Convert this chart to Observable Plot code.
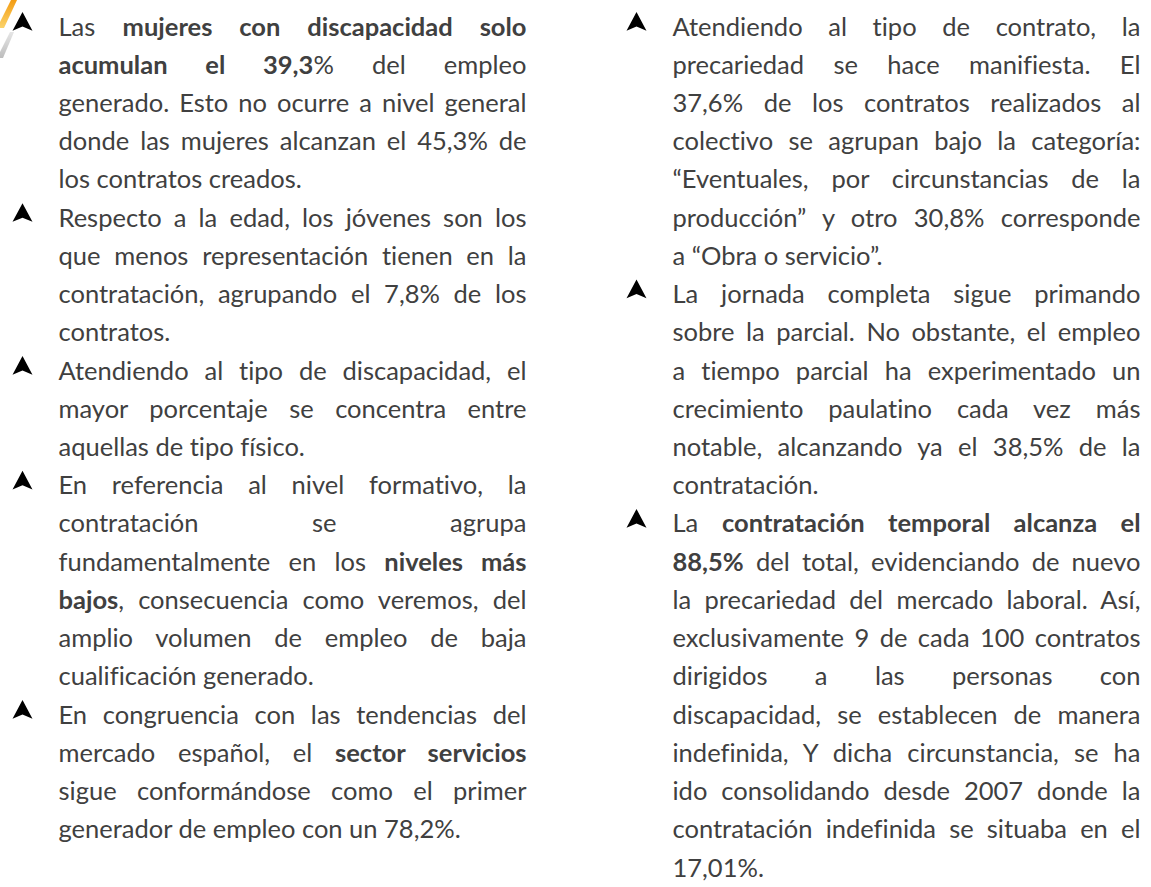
<!DOCTYPE html>
<html><head><meta charset="utf-8">
<script src="https://cdn.jsdelivr.net/npm/d3@7"></script>
<script src="https://cdn.jsdelivr.net/npm/@observablehq/plot@0.6"></script>
<style>
html,body{margin:0;padding:0;background:#fff;overflow:hidden;}
#chart svg{display:block;}
#chart text{font-variant-ligatures:none;font-feature-settings:"liga" 0,"clig" 0,"dlig" 0;}
</style></head><body><div id="chart"></div>
<script>
// ---- data: columns, lines of text (bold marked with *...*), bullet starts ----
const columns = ["izquierda", "derecha"];
const leftLines = [
  "Las *mujeres con discapacidad solo*",
  "*acumulan el 39,3*% del empleo",
  "generado. Esto no ocurre a nivel general",
  "donde las mujeres alcanzan el 45,3% de",
  "los contratos creados.",
  "Respecto a la edad, los jóvenes son los",
  "que menos representación tienen en la",
  "contratación, agrupando el 7,8% de los",
  "contratos.",
  "Atendiendo al tipo de discapacidad, el",
  "mayor porcentaje se concentra entre",
  "aquellas de tipo físico.",
  "En referencia al nivel formativo, la",
  "contratación se agrupa",
  "fundamentalmente en los *niveles más*",
  "*bajos*, consecuencia como veremos, del",
  "amplio volumen de empleo de baja",
  "cualificación generado.",
  "En congruencia con las tendencias del",
  "mercado español, el *sector servicios*",
  "sigue conformándose como el primer",
  "generador de empleo con un 78,2%."
];
const rightLines = [
  "Atendiendo al tipo de contrato, la",
  "precariedad se hace manifiesta. El",
  "37,6% de los contratos realizados al",
  "colectivo se agrupan bajo la categoría:",
  "“Eventuales, por circunstancias de la",
  "producción” y otro 30,8% corresponde",
  "a “Obra o servicio”.",
  "La jornada completa sigue primando",
  "sobre la parcial. No obstante, el empleo",
  "a tiempo parcial ha experimentado un",
  "crecimiento paulatino cada vez más",
  "notable, alcanzando ya el 38,5% de la",
  "contratación.",
  "La *contratación temporal alcanza el*",
  "*88,5%* del total, evidenciando de nuevo",
  "la precariedad del mercado laboral. Así,",
  "exclusivamente 9 de cada 100 contratos",
  "dirigidos a las personas con",
  "discapacidad, se establecen de manera",
  "indefinida, Y dicha circunstancia, se ha",
  "ido consolidando desde 2007 donde la",
  "contratación indefinida se situaba en el",
  "17,01%."
];
const leftBulletStarts = [0, 5, 9, 12, 18];
const rightBulletStarts = [0, 7, 13];

// ---- build tables ----
function buildRows(lines, starts, col) {
  return lines.map((t, i) => {
    const lastOfPara = i === lines.length - 1 || starts.includes(i + 1);
    return {col, line: i, text: t, justify: !lastOfPara};
  });
}
const rows = [
  ...buildRows(leftLines, leftBulletStarts, 0),
  ...buildRows(rightLines, rightBulletStarts, 1)
];
const bullets = [
  ...leftBulletStarts.map(i => ({col: 0, line: i})),
  ...rightBulletStarts.map(i => ({col: 1, line: i}))
];

// ---- style ----
const textColor = "#404040";
const fontFamily = "Lato, 'Open Sans', sans-serif";
let fontSize = 25.5;
const textWidth = 468;

const arrowhead = {
  draw(ctx, size) {
    const r = Math.sqrt(size / Math.PI);
    ctx.moveTo(0, -r);
    ctx.lineTo(r * 0.95, r * 0.78);
    ctx.lineTo(0, r * 0.38);
    ctx.lineTo(-r * 0.95, r * 0.78);
    ctx.closePath();
  }
};

const chart = Plot.plot({
  width: 1151, height: 887, margin: 0,
  x: {domain: [0, 1], range: [58, 672], axis: null},
  y: {domain: [0, 22], range: [35, 876], axis: null},
  marks: [
    Plot.dot(bullets, {x: "col", y: "line", symbol: arrowhead, r: 10.5, fill: "#000", stroke: "none", dx: -36, dy: -13}),
    Plot.text(rows, {x: "col", y: "line", text: "text", textAnchor: "start", lineAnchor: "bottom",
      fill: textColor, fontSize: fontSize, fontFamily: fontFamily})
  ]
});
document.getElementById("chart").appendChild(chart);

// decorative logo fragment at the top-left corner
(function () {
  const svg = d3.select(chart);
  const defs = svg.append("defs");
  const g1 = defs.append("linearGradient").attr("id", "lgO").attr("x1", 0).attr("y1", 0).attr("x2", 0).attr("y2", 1);
  g1.append("stop").attr("offset", 0).attr("stop-color", "#f39c12");
  g1.append("stop").attr("offset", 1).attr("stop-color", "#fbd36b");
  const g2 = defs.append("linearGradient").attr("id", "lgG").attr("x1", 0).attr("y1", 0).attr("x2", 0).attr("y2", 1);
  g2.append("stop").attr("offset", 0).attr("stop-color", "#e6e6e6");
  g2.append("stop").attr("offset", 1).attr("stop-color", "#bdbdbd");
  const lg = svg.insert("g", ":first-child");
  lg.append("path").attr("d", "M11,0 L17,0 L4,28 L0,28 L0,22 Z").attr("fill", "url(#lgO)");
  lg.append("path").attr("d", "M10,32 L14,32 L3,58 L0,58 L0,52 Z").attr("fill", "url(#lgG)");
})();

// mixed bold runs and full justification
const textEls = chart.querySelectorAll('g[aria-label="text"] text');
function fill(el, raw) {
  el.textContent = "";
  raw.split("*").forEach((seg, k) => {
    if (!seg) return;
    const ts = document.createElementNS("http://www.w3.org/2000/svg", "tspan");
    ts.textContent = seg;
    if (k % 2 === 1) ts.setAttribute("font-weight", "bold");
    el.appendChild(ts);
  });
}
textEls.forEach((el, i) => fill(el, rows[i].text));
// make sure the widest justified line fits
let maxRatio = 0;
textEls.forEach((el, i) => {
  if (rows[i].justify) maxRatio = Math.max(maxRatio, el.getComputedTextLength() / textWidth);
});
if (maxRatio > 0.995) {
  fontSize = fontSize * 0.995 / maxRatio;
  textEls.forEach(el => el.setAttribute("font-size", fontSize));
  chart.querySelector('g[aria-label="text"]').setAttribute("font-size", fontSize);
}
textEls.forEach((el, i) => {
  if (!rows[i].justify) return;
  const natural = el.getComputedTextLength();
  const spaces = (rows[i].text.match(/ /g) || []).length;
  if (spaces > 0) el.style.wordSpacing = ((textWidth - natural) / spaces) + "px";
});
</script>
</body></html>
